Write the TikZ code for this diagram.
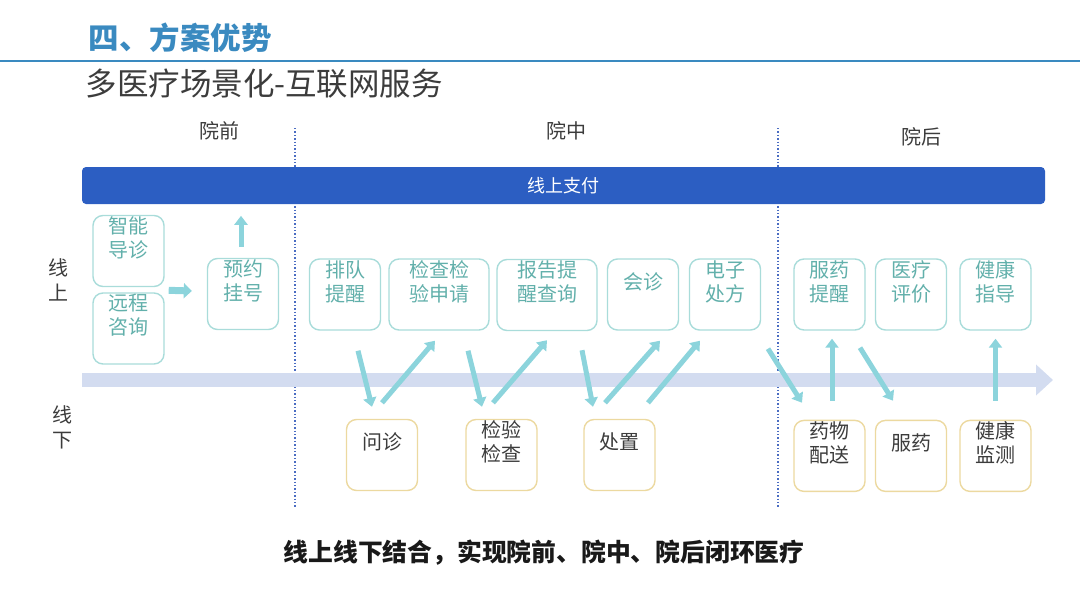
\documentclass[tikz,border=0pt]{standalone}
\usepackage{fontspec}
\setmainfont{Noto Sans CJK SC}
\usetikzlibrary{arrows.meta,positioning}
\usepackage{xcolor}
\definecolor{titleblue}{HTML}{3A8AC0}
\definecolor{paybar}{HTML}{2C5EC2}
\definecolor{timeline}{HTML}{D3DCF0}
\definecolor{onbord}{HTML}{A9DCDA}
\definecolor{ontxt}{HTML}{62B0AB}
\definecolor{offbord}{HTML}{ECD9A0}
\definecolor{flowc}{HTML}{8CD4DC}
\definecolor{sepc}{HTML}{4A6CC2}
\definecolor{greytxt}{HTML}{3C3C3C}

\begin{document}
\begin{tikzpicture}[
            x=1pt, y=-1pt,
            node distance=89pt and 10pt,
            onbox/.style={rectangle, draw=onbord, rounded corners=10pt, line width=1.4pt, minimum width=71pt, minimum height=71pt, inner sep=0pt, fill=white},
            widebox/.style={onbox, minimum width=100pt},
            offbox/.style={onbox, draw=offbord},
            ontext/.style={align=center, text=ontxt, font=\fontsize{20}{24}\selectfont, inner sep=0pt, yshift=13pt},
            offtext/.style={ontext, text=greytxt},
            phase/.style={text=greytxt, font=\fontsize{20}{24}\selectfont},
            flow/.style={-{Triangle[width=13pt,length=9pt]}, line width=5pt, flowc},
            sepline/.style={sepc, dotted, line width=1.4pt}
        ]
            \useasboundingbox (0,0) rectangle (1080,608);

            % --- TITULO ---
            \node[anchor=west, text=titleblue, font=\fontsize{30.5}{34}\selectfont\bfseries] (titulo) at (85,38) {四、方案优势};
            \draw[titleblue, line width=2pt] (0,61) -- (1080,61);
            \node[anchor=west, text=greytxt, font=\fontsize{31.5}{34}\selectfont] (subtitulo) at (82,84) {多医疗场景化-互联网服务};

            % --- FASES ---
            \node[phase] (yuanqian) at (219,131) {院前};
            \node[phase] (yuanzhong) at (566,131) {院中};
            \node[phase] (yuanhou) at (921,137) {院后};
            \draw[sepline] (295,128) -- (295,507);
            \draw[sepline] (778,128) -- (778,507);

            % --- LINHA DO TEMPO ---
            \coordinate (tstart) at (82,380);
            \coordinate (tend) at (1053,380);
            \draw[timeline, line width=14pt, -{Triangle[width=30pt,length=17pt]}] (tstart) -- (tend);

            \node[rectangle, rounded corners=4pt, fill=paybar, minimum width=963pt, minimum height=37pt, text=white, font=\fontsize{18}{20}\selectfont] (pagamento) at (563.5,185.5) {线上支付};

            \node[phase, align=center, font=\fontsize{20}{25}\selectfont] (online) at (58,280) {线\\上};
            \node[phase, align=center, font=\fontsize{20}{25}\selectfont] (offline) at (62,427) {线\\下};

            % --- ONLINE ---
            \node[onbox, label={[ontext]center:{智能\\导诊}}] (zhineng) at (128.5,251) {};
            \node[onbox, label={[ontext]center:{远程\\咨询}}] (yuancheng) at (128.5,328.5) {};
            \node[onbox, label={[ontext]center:{预约\\挂号}}] (guahao) at (243,294) {};
            \node[onbox, label={[ontext]center:{排队\\提醒}}] (paidui) at (345,294.5) {};
            \node[widebox, label={[ontext]center:{检查检\\验申请}}] (shenqing) at (439,294.5) {};
            \node[widebox, label={[ontext]center:{报告提\\醒查询}}] (baogao) at (547,295) {};
            \node[onbox, label={[ontext]center:{会诊}}] (huizhen) at (643,294.5) {};
            \node[onbox, label={[ontext]center:{电子\\处方}}] (chufang) at (725,294.5) {};
            \node[onbox, label={[ontext]center:{服药\\提醒}}] (tixing) at (829.5,294.5) {};
            \node[onbox, label={[ontext]center:{医疗\\评价}}] (pingjia) at (911,294.5) {};
            \node[onbox, label={[ontext]center:{健康\\指导}}] (zhidao) at (995.5,294.5) {};

            % --- OFFLINE ---
            \node[offbox, label={[offtext]center:{问诊}}] (wenzhen) at (382,455) {};
            \node[offbox, label={[offtext]center:{检验\\检查}}] (jianyan) at (501.5,455) {};
            \node[offbox, label={[offtext]center:{处置}}] (chuzhi) at (619.5,455) {};
            \node[offbox, below=of tixing, label={[offtext]center:{药物\\配送}}] (peisong) {};
            \node[offbox, below=of pingjia, label={[offtext]center:{服药}}] (fuyao) {};
            \node[offbox, below=of zhidao, label={[offtext]center:{健康\\监测}}] (jiance) {};

            % Setas
            \draw[flow, -{Triangle[width=15pt,length=8pt]}, line width=7pt] ([xshift=4pt,yshift=2pt]yuancheng.north east) -- ([xshift=-15pt,yshift=3pt]guahao.west);
            \draw[flow] ([xshift=-2pt,yshift=11pt]guahao.north) -- ([xshift=-2pt,yshift=42pt]guahao.north);
            \draw[flow] ([xshift=13pt,yshift=-20pt]paidui.south) -- ([xshift=-10pt,yshift=12pt]wenzhen.north);
            \draw[flow] ([yshift=16pt]wenzhen.north) -- ([xshift=-4pt,yshift=-10pt]shenqing.south);
            \draw[flow] ([xshift=29pt,yshift=-20pt]shenqing.south) -- ([xshift=-19.5pt,yshift=12pt]jianyan.north);
            \draw[flow] ([xshift=-8.5pt,yshift=16pt]jianyan.north) -- ([yshift=-9pt]baogao.south);
            \draw[flow] ([xshift=35pt,yshift=-19pt]baogao.south) -- ([xshift=-26.5pt,yshift=12pt]chuzhi.north);
            \draw[flow] ([xshift=-14.5pt,yshift=16pt]chuzhi.north) -- ([xshift=17pt,yshift=-10pt]huizhen.south);
            \draw[flow] ([xshift=28.5pt,yshift=16pt]chuzhi.north) -- ([xshift=-25pt,yshift=-10pt]chufang.south);
            \draw[flow] ([xshift=43pt,yshift=-18pt]chufang.south) -- ([xshift=-27.5pt,yshift=17pt]peisong.north);
            \draw[flow] ([xshift=2.5pt,yshift=19pt]peisong.north) -- ([xshift=2.5pt,yshift=-8pt]tixing.south);
            \draw[flow] ([xshift=30.5pt,yshift=-17pt]tixing.south) -- ([xshift=-18pt,yshift=19pt]fuyao.north);
            \draw[flow] ([yshift=19pt]jiance.north) -- ([yshift=-8pt]zhidao.south);

            % --- CONCLUSAO ---
            \node[text=black!90, font=\fontsize{24.8}{28}\selectfont\bfseries] (conclusao) at (544,553) {线上线下结合，实现院前、院中、院后闭环医疗};

        \end{tikzpicture}
\end{document}
